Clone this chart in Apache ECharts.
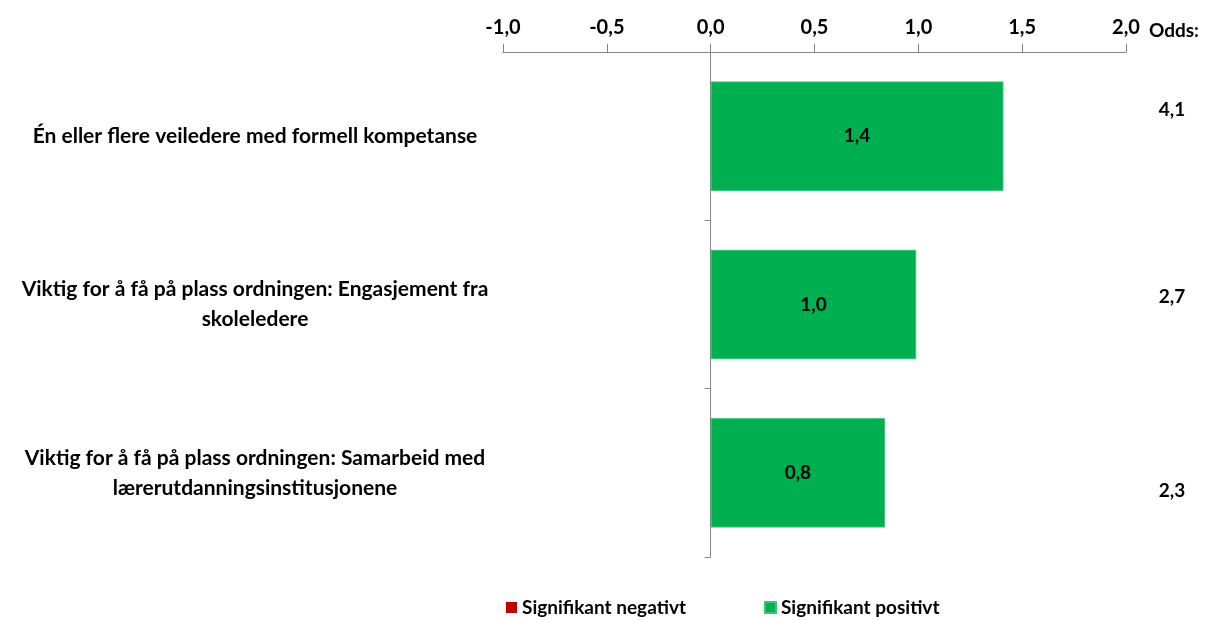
<!DOCTYPE html>
<html>
<head>
<meta charset="utf-8">
<script src="https://cdn.jsdelivr.net/npm/echarts@6/dist/echarts.min.js"></script>
<style>html,body{margin:0;padding:0;background:#fff}#c{width:1212px;height:620px}</style>
</head>
<body>
<div id="c"></div>
<script>
const categories = [
  'Én eller flere veiledere med formell kompetanse',
  'Viktig for å få på plass ordningen: Engasjement fra\nskoleledere',
  'Viktig for å få på plass ordningen: Samarbeid med\nlærerutdanningsinstitusjonene'
];
const positiveValues = [1.41, 0.99, 0.84];
const negativeValues = [null, null, null];
const oddsLabels = ['4,1', '2,7', '2,3'];
const xTicks = { min: -1, max: 2, interval: 0.5 };
const seriesNames = ['Signifikant negativt', 'Signifikant positivt'];

const FONT = 'Lato';
const comma = v => Number(v).toFixed(1).replace('.', ',');
// vertical nudges of the odds labels (style only)
const oddsPad = [[0, 0, 52, 0], [0, 0, 16, 0], [36, 0, 0, 0]];
const oddsRich = {};
oddsPad.forEach((p, i) => {
  oddsRich['o' + i] = { padding: p, fontFamily: FONT, fontWeight: 'bold', fontSize: 19, color: '#000' };
});

const chart = echarts.init(document.getElementById('c'), null, { renderer: 'canvas' });
chart.setOption({
  backgroundColor: '#fff',
  animation: false,
  textStyle: { fontFamily: FONT },
  title: {
    text: 'Odds:', right: 8, top: 16,
    textStyle: { fontFamily: FONT, fontWeight: 'bold', fontSize: 19, color: '#000' }
  },
  grid: { left: 503, right: 86, top: 52, bottom: 63, containLabel: false, outerBoundsMode: 'none' },
  legend: {
    top: 598, left: 506, padding: 0, itemGap: 78, itemWidth: 11, itemHeight: 11, icon: 'rect',
    data: seriesNames,
    textStyle: { fontFamily: FONT, fontWeight: 'bold', fontSize: 19, color: '#000' }
  },
  xAxis: {
    type: 'value', position: 'top',
    min: xTicks.min, max: xTicks.max, interval: xTicks.interval,
    axisLine: { show: true, lineStyle: { color: '#868686', width: 1 } },
    axisTick: { show: true, length: 8, lineStyle: { color: '#868686' } },
    splitLine: { show: false },
    axisLabel: { formatter: comma, fontFamily: FONT, fontWeight: 'bold', fontSize: 20, color: '#000', margin: 14 }
  },
  yAxis: [{
    type: 'category', data: categories, inverse: true,
    axisLine: { show: true, onZero: true, lineStyle: { color: '#868686', width: 1 } },
    axisTick: { show: true, length: 6, lineStyle: { color: '#868686' } },
    axisLabel: { align: 'center', margin: 248, fontFamily: FONT, fontWeight: 'bold', fontSize: 21, color: '#000', lineHeight: 30 }
  }, {
    type: 'category', data: oddsLabels, inverse: true, position: 'right',
    axisLine: { show: false }, axisTick: { show: false },
    axisLabel: {
      align: 'center', margin: 46,
      formatter: (v, i) => '{o' + i + '|' + v + '}',
      rich: oddsRich
    }
  }],
  series: [{
    name: seriesNames[0], type: 'bar', stack: 's', data: negativeValues,
    itemStyle: { color: '#C00000' }, barCategoryGap: '35%'
  }, {
    name: seriesNames[1], type: 'bar', stack: 's', data: positiveValues,
    itemStyle: { color: '#00B050', borderColor: '#3CC27A', borderWidth: 1 },
    barCategoryGap: '35%',
    label: { show: true, position: 'inside', formatter: p => comma(p.value), fontFamily: FONT, fontWeight: 'bold', fontSize: 19, color: '#000' }
  }]
});
</script>
</body>
</html>
